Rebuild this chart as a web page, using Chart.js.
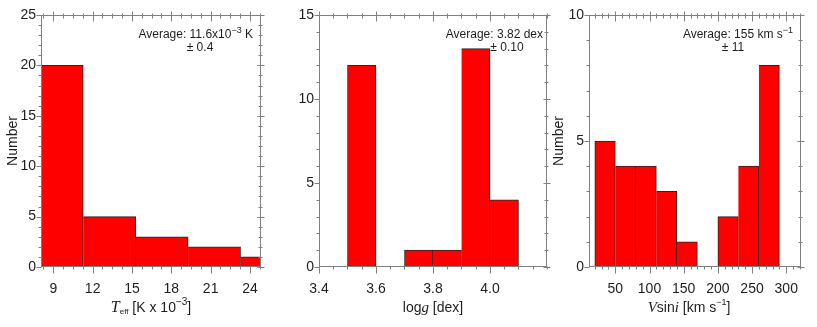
<!DOCTYPE html>
<html>
<head>
<meta charset="utf-8">
<script src="https://cdn.jsdelivr.net/npm/chart.js@4.4.0/dist/chart.umd.min.js"></script>
<style>
  html, body { margin: 0; padding: 0; background: #fff; }
  #wrap { position: relative; width: 817px; height: 327px; }
  canvas { position: absolute; left: 0; top: 0; }
</style>
</head>
<body>
<div id="wrap">
  <canvas id="teff" width="817" height="327"></canvas>
  <canvas id="logg" width="817" height="327"></canvas>
  <canvas id="vsini" width="817" height="327"></canvas>
</div>
<script>
// histogram bins (centres) and counts
const teffBins = [9.28, 13.28, 17.28, 21.28, 25.28];
const teffCounts = [20, 5, 3, 2, 1];
const teffTicks = [9, 12, 15, 18, 21, 24];
const teffCountTicks = [0, 5, 10, 15, 20, 25];

const loggBins = [3.55, 3.75, 3.85, 3.95, 4.05];
const loggCounts = [12, 1, 1, 13, 4];
const loggTicks = [3.4, 3.6, 3.8, 4.0];
const loggCountTicks = [0, 5, 10, 15];

const vsiniBins = [35, 65, 95, 125, 155, 185, 215, 245, 275];
const vsiniCounts = [5, 4, 4, 3, 1, 0, 2, 4, 8];
const vsiniTicks = [50, 100, 150, 200, 250, 300];
const vsiniCountTicks = [0, 5, 10];

const AXIS = '#808080';
const INK = '#1e1e1e';
const SANS = 'Liberation Sans, Arial, sans-serif';
const SERIF = 'Liberation Serif, Times New Roman, serif';

Chart.defaults.font.family = SANS;
Chart.defaults.color = INK;

function rich(ctx, parts, x, y, align) {
  let w = 0;
  parts.forEach(p => { ctx.font = p.font; p.w = ctx.measureText(p.t).width; w += p.w; });
  let cx = align === 'right' ? x - w : align === 'center' ? x - w / 2 : x;
  parts.forEach(p => { ctx.font = p.font; ctx.fillText(p.t, cx, y + (p.dy || 0)); cx += p.w; });
}

function minorValues(scale, major, step) {
  const out = [];
  for (let v = major[0]; v >= scale.min - 1e-9; v -= step) out.push(v);
  for (let v = major[0] + step; v <= scale.max + 1e-9; v += step) out.push(v);
  return out;
}

// box, IDL-like tick marks on all four sides, and rich-text labels
const framePlugin = {
  id: 'frame',
  afterDatasetsDraw(chart, args, opts) {
    const { ctx, chartArea: a } = chart;
    const xs = chart.scales.x, ys = chart.scales.y;
    const L = Math.round(a.left) + 0.5, R = Math.round(a.right) - 0.5;
    const T = Math.round(a.top) + 0.5, B = Math.round(a.bottom) - 0.5;
    ctx.save();
    ctx.strokeStyle = AXIS;
    ctx.lineWidth = 1;
    ctx.beginPath();
    const isMajor = (v, list) => list.some(m => Math.abs(m - v) < 1e-6);
    minorValues(xs, opts.xMajor, opts.xMinor).forEach(v => {
      const px = Math.round(xs.getPixelForValue(v)) + 0.5;
      const big = isMajor(v, opts.xMajor);
      ctx.moveTo(px, B); ctx.lineTo(px, B + (big ? 7 : 3));
      ctx.moveTo(px, T - (big ? 4 : 2)); ctx.lineTo(px, T + (big ? 6 : 3));
    });
    minorValues(ys, opts.yMajor, opts.yMinor).forEach(v => {
      const py = Math.round(ys.getPixelForValue(v)) + 0.5;
      const big = isMajor(v, opts.yMajor);
      ctx.moveTo(L - (big ? 5 : 3), py); ctx.lineTo(L, py);
      ctx.moveTo(R - (big ? 3 : 2), py); ctx.lineTo(R + (big ? 4 : 2), py);
    });
    ctx.stroke();
    ctx.strokeRect(L, T, R - L, B - T);
    ctx.fillStyle = INK;
    ctx.textBaseline = 'alphabetic';
    rich(ctx, opts.xTitle, (a.left + a.right) / 2 + (opts.titleShift || 0), 312, 'center');
    opts.notes.forEach(n => rich(ctx, n.parts, n.x, n.y, n.align));
    ctx.restore();
  }
};

function histChart(id, c) {
  const w = Math.min(...c.bins.slice(1).map((b, i) => b - c.bins[i]));
  const hasLeft = i => i > 0 && c.counts[i - 1] > 0 && Math.abs(c.bins[i] - c.bins[i - 1] - w) < 1e-6;
  const chart = new Chart(document.getElementById(id), {
    type: 'bar',
    data: {
      datasets: [{
        data: c.bins.map((b, i) => ({ x: b, y: c.counts[i] })),
        backgroundColor: '#ff0000',
        borderColor: '#262626',
        borderWidth: ctx => ({ top: 1, right: 1, bottom: 0, left: hasLeft(ctx.dataIndex) ? 0 : 1 }),
        barPercentage: 1,
        categoryPercentage: 1,
        clip: 0
      }]
    },
    options: {
      responsive: false,
      animation: false,
      events: [],
      layout: { padding: c.pad },
      plugins: {
        legend: { display: false },
        tooltip: { enabled: false },
        frame: c.frame
      },
      scales: {
        x: {
          type: 'linear', axis: 'x', position: 'bottom', offset: false,
          min: c.xmin, max: c.xmax,
          grid: { display: false, drawTicks: false, offset: false },
          border: { display: false },
          ticks: { padding: 14, font: { size: 14 }, color: INK, callback: c.fmt },
          afterBuildTicks: s => { s.ticks = c.xTicks.map(v => ({ value: v })); },
          afterFit: s => { s.height = 40; }
        },
        y: {
          type: 'linear', min: 0, max: c.ymax,
          grid: { display: false, drawTicks: false },
          border: { display: false },
          ticks: { padding: 5, font: { size: 14 }, color: INK },
          afterBuildTicks: s => { s.ticks = c.yTicks.map(v => ({ value: v })); },
          afterFit: s => { s.width = 40; },
          title: {
            display: c.yTitle, text: 'Number', color: INK,
            font: { size: 14 }, padding: { top: c.titlePad, bottom: 0 }
          }
        }
      }
    },
    plugins: [framePlugin]
  });
  // bars are exactly one bin wide on the x scale
  const xs = chart.scales.x;
  chart.data.datasets[0].barThickness = Math.abs(xs.getPixelForValue(c.bins[0] + w) - xs.getPixelForValue(c.bins[0]));
  chart.update();
  return chart;
}

const f14 = '14px ' + SANS, f12 = '12px ' + SANS, sup = '9px ' + SANS;
const it = 'italic 15px ' + SERIF;

histChart('teff', {
  bins: teffBins, counts: teffCounts, xTicks: teffTicks, yTicks: teffCountTicks,
  xmin: 8.06, xmax: 24.84, ymax: 25, fmt: v => String(v),
  pad: { left: 1, right: 556, top: 15, bottom: 20 },
  yTitle: true, titlePad: 4,
  frame: {
    xMajor: teffTicks, xMinor: 0.75, yMajor: teffCountTicks, yMinor: 1,
    xTitle: [
      { t: 'T', font: 'italic 16px ' + SERIF },
      { t: 'eff', font: '8px ' + SANS, dy: 2 },
      { t: ' [K x 10', font: f14 },
      { t: '\u22123', font: '10px ' + SANS, dy: -7 },
      { t: ']', font: f14 }
    ],
    notes: [
      { x: 253, y: 38, align: 'right', parts: [
        { t: 'Average: 11.6x10', font: f12 },
        { t: '\u22123', font: sup, dy: -5 },
        { t: ' K', font: f12 }] },
      { x: 200, y: 51, align: 'center', parts: [{ t: '\u00b1 0.4', font: f12 }] }
    ]
  }
});

histChart('logg', {
  bins: loggBins, counts: loggCounts, xTicks: loggTicks, yTicks: loggCountTicks,
  xmin: 3.4, xmax: 4.2, ymax: 15, fmt: v => v.toFixed(1),
  pad: { left: 279, right: 270, top: 15, bottom: 20 },
  yTitle: false, titlePad: 0,
  frame: {
    xMajor: loggTicks, xMinor: 0.05, yMajor: loggCountTicks, yMinor: 1,
    xTitle: [
      { t: 'log', font: f14 },
      { t: 'g', font: it },
      { t: ' [dex]', font: f14 }
    ],
    notes: [
      { x: 543, y: 38, align: 'right', parts: [{ t: 'Average: 3.82 dex', font: f12 }] },
      { x: 507, y: 51, align: 'center', parts: [{ t: '\u00b1 0.10', font: f12 }] }
    ]
  }
});

histChart('vsini', {
  bins: vsiniBins, counts: vsiniCounts, xTicks: vsiniTicks, yTicks: vsiniCountTicks,
  xmin: 11.5, xmax: 321.6, ymax: 10, fmt: v => String(v),
  pad: { left: 549, right: 16, top: 15, bottom: 20 },
  yTitle: true, titlePad: 2,
  frame: {
    xMajor: vsiniTicks, xMinor: 10, yMajor: vsiniCountTicks, yMinor: 1,
    titleShift: -6,
    xTitle: [
      { t: 'V', font: it },
      { t: 'sin', font: f14 },
      { t: 'i', font: it },
      { t: ' [km s', font: f14 },
      { t: '\u22121', font: sup, dy: -7 },
      { t: ']', font: f14 }
    ],
    notes: [
      { x: 793, y: 38, align: 'right', parts: [
        { t: 'Average: 155 km s', font: f12 },
        { t: '\u22121', font: sup, dy: -5 }] },
      { x: 733, y: 51, align: 'center', parts: [{ t: '\u00b1 11', font: f12 }] }
    ]
  }
});
</script>
</body>
</html>
